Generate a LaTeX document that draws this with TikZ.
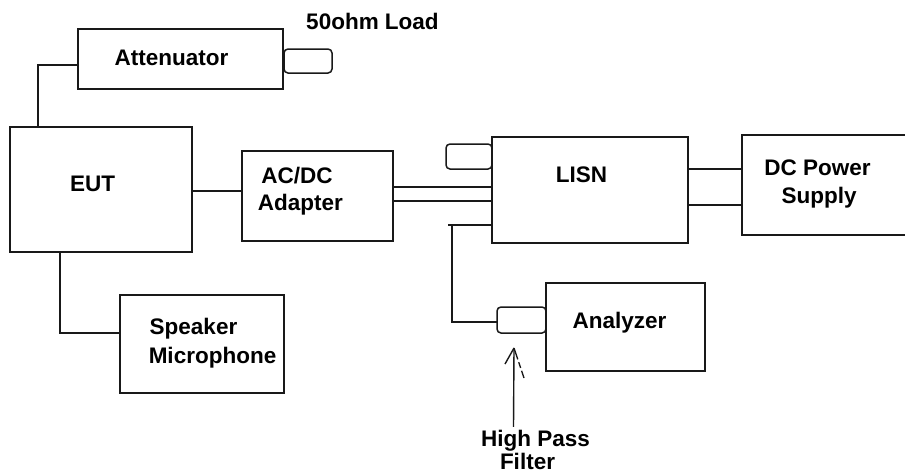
\documentclass[tikz,border=0pt]{standalone}
\usepackage{fontspec}
\setmainfont{Liberation Sans}
\begin{document}
\begin{tikzpicture}[x=1pt,y=-1pt,
  line width=1.7pt,
  box/.style={draw=black!90, line width=1.7pt, rectangle, inner sep=0pt, outer sep=0pt},
  plug/.style={draw=black!90, line width=1.5pt, rectangle, rounded corners=4pt, inner sep=0pt, outer sep=0pt},
  lbl/.style={anchor=base, inner sep=0pt, font=\fontsize{22.5}{27}\selectfont\bfseries, text=black},
  wire/.style={draw=black!90, line width=1.7pt}]
\useasboundingbox (0,0) rectangle (905,475);
% boxes
\node[box, minimum width=205pt, minimum height=60pt] (att) at (180.5,59) {};
\node[box, minimum width=182pt, minimum height=125pt] (eut) at (101,189.5) {};
\node[box, minimum width=151pt, minimum height=90pt] (acdc) at (317.5,196) {};
\node[box, minimum width=196pt, minimum height=106pt] (lisn) at (590,190) {};
\node[box, minimum width=178pt, minimum height=100pt] (dc) at (831,185) {};
\node[box, minimum width=164pt, minimum height=98pt] (spk) at (202,344) {};
\node[box, minimum width=159pt, minimum height=88pt] (ana) at (625.5,327) {};
% plugs
\node[plug, minimum width=48pt, minimum height=24pt] (load) at (308,61) {};
\node[plug, minimum width=46pt, minimum height=25pt] (lplug) at (469,156.5) {};
\node[plug, minimum width=49pt, minimum height=26pt] (hpf) at (521.5,320) {};
% labels
\node[lbl] (tatt) at (171.5,65) {Attenuator};
\node[lbl] (tload) at (372.5,29) {50ohm Load};
\node[lbl] (teut) at (92.5,191) {EUT};
\node[lbl] (tacdc) at (297,183) {AC/DC};
\node[lbl] (tadapt) at (300.5,210) {Adapter};
\node[lbl] (tlisn) at (581.5,182) {LISN};
\node[lbl] (tdc) at (817.5,175) {DC Power};
\node[lbl] (tsup) at (819,203) {Supply};
\node[lbl] (tspk) at (193.5,334) {Speaker};
\node[lbl] (tmic) at (212.5,363) {Microphone};
\node[lbl] (tana) at (619.5,328) {Analyzer};
\node[lbl] (thp) at (535.5,446) {High Pass};
\node[lbl] (tfil) at (527.5,469) {Filter};
% wires
\draw[wire] ([yshift=-6pt]att.west) -- ++(-41pt,0) coordinate (attc);
\draw[wire] ([xshift=1pt]attc) -- ([xshift=28pt]eut.north west);
\draw[wire] ([yshift=-1.5pt]eut.east) -- ([yshift=-1.5pt]eut.east -| acdc.west);
\draw[wire] ([yshift=9pt]acdc.east) -- ([yshift=9pt]acdc.east -| lisn.west);
\draw[wire] ([yshift=-5pt]acdc.east) -- ([yshift=-5pt]acdc.east -| lisn.west);
\draw[wire] ([yshift=21pt]lisn.east) -- ([yshift=21pt]lisn.east -| dc.west);
\draw[wire] ([yshift=-15pt]lisn.east) -- ([yshift=-15pt]lisn.east -| dc.west);
\draw[wire] ([yshift=-35pt]lisn.west) -- ++(-44pt,0) coordinate (tapc);
\draw[wire] ([xshift=4pt]tapc) |- ([yshift=-2pt]hpf.west);
\draw[wire] ([xshift=50pt]eut.south west) |- ([yshift=11pt]spk.west);
% arrow to high pass filter
\coordinate (tip) at (514,348);
\draw[wire, line width=1.4pt] ([xshift=-22pt, yshift=2pt]thp.north) -- (tip);
\draw[wire, line width=1.4pt] (tip) -- ++(-9,16);
\draw[wire, line width=1.4pt, dash pattern=on 12pt off 3pt on 6pt off 3pt] (tip) -- ++(10,30);
\end{tikzpicture}
\end{document}
